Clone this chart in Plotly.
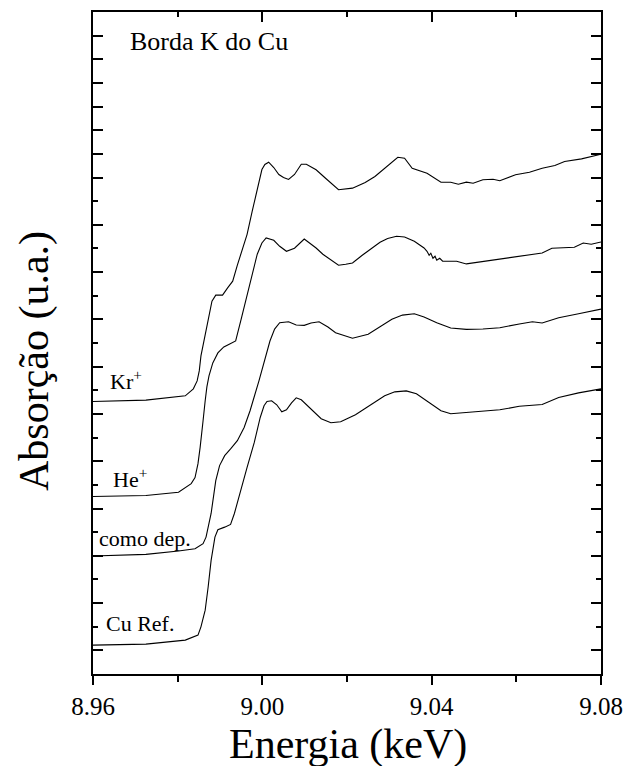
import plotly.graph_objects as go

# ---- data (energy in keV, absorption in arbitrary units) ----
kr_E = [8.9600, 8.9725, 8.9818, 8.9837, 8.9846, 8.9851, 8.9855, 8.9860, 8.9865, 8.9872,
        8.9876, 8.9881, 8.9890, 8.9906, 8.9918, 8.9930, 8.9941, 8.9953, 8.9964, 8.9976,
        8.9988, 8.9999, 9.0006, 9.0015, 9.0027, 9.0039, 9.0050, 9.0062, 9.0076, 9.0092,
        9.0104, 9.0127, 9.0150, 9.0180, 9.0213, 9.0243, 9.0266, 9.0294, 9.0320, 9.0336,
        9.0354, 9.0389, 9.0422, 9.0445, 9.0463, 9.0482, 9.0498, 9.0521, 9.0545, 9.0561,
        9.0598, 9.0631, 9.0661, 9.0691, 9.0714, 9.0754, 9.0800]
kr_A = [11.525, 11.584, 11.765, 12.061, 12.398, 12.820, 13.452, 13.874, 14.296, 15.013,
        15.350, 15.772, 16.025, 16.025, 16.332, 16.615, 17.290, 17.922, 18.597, 19.567,
        20.550, 21.338, 21.549, 21.646, 21.422, 21.127, 21.001, 20.916, 21.127, 21.562,
        21.562, 21.325, 20.958, 20.482, 20.550, 20.790, 21.043, 21.465, 21.857, 21.815,
        21.393, 21.182, 20.802, 20.802, 20.718, 20.802, 20.760, 20.904, 20.929, 20.861,
        21.114, 21.224, 21.393, 21.507, 21.675, 21.789, 21.983]

he_E = [8.9600, 8.9725, 8.9802, 8.9832, 8.9841, 8.9848, 8.9853, 8.9855, 8.9860, 8.9865,
        8.9869, 8.9874, 8.9883, 8.9895, 8.9909, 8.9923, 8.9937, 8.9950, 8.9964, 8.9976,
        8.9988, 8.9999, 9.0009, 9.0027, 9.0041, 9.0057, 9.0076, 9.0099, 9.0113, 9.0127,
        9.0143, 9.0157, 9.0169, 9.0180, 9.0197, 9.0213, 9.0236, 9.0259, 9.0278, 9.0296,
        9.0317, 9.0336, 9.0359, 9.0382, 9.0389, 9.0394, 9.0398, 9.0403, 9.0408, 9.0412,
        9.0419, 9.0426, 9.0459, 9.0482, 9.0498, 9.0521, 9.0561, 9.0607, 9.0661, 9.0684,
        9.0737, 9.0758, 9.0777, 9.0800]
he_A = [7.506, 7.548, 7.688, 8.054, 8.307, 8.898, 9.573, 10.007, 10.711, 11.555,
        12.145, 12.609, 13.157, 13.579, 13.832, 13.958, 14.085, 15.013, 16.067, 16.952,
        17.754, 18.230, 18.441, 18.344, 18.091, 17.880, 18.007, 18.399, 18.217, 18.019,
        17.754, 17.585, 17.429, 17.290, 17.332, 17.387, 17.711, 18.019, 18.260, 18.416,
        18.513, 18.483, 18.302, 18.019, 17.880, 17.711, 17.796, 17.585, 17.669, 17.501,
        17.585, 17.458, 17.458, 17.345, 17.387, 17.416, 17.543, 17.669, 17.808, 18.007,
        18.049, 18.230, 18.175, 18.272]

dep_E = [8.9600, 8.9725, 8.9802, 8.9841, 8.9860, 8.9867, 8.9879, 8.9890, 8.9899, 8.9911,
         8.9925, 8.9941, 8.9957, 8.9971, 8.9992, 9.0006, 9.0018, 9.0029, 9.0041, 9.0062,
         9.0080, 9.0099, 9.0115, 9.0134, 9.0155, 9.0173, 9.0213, 9.0250, 9.0278, 9.0306,
         9.0331, 9.0359, 9.0382, 9.0412, 9.0445, 9.0482, 9.0521, 9.0561, 9.0607, 9.0638,
         9.0661, 9.0700, 9.0747, 9.0800]
dep_A = [4.989, 5.060, 5.200, 5.301, 5.512, 5.790, 6.789, 8.181, 8.814, 9.235,
         9.518, 9.868, 10.429, 11.133, 12.398, 13.326, 14.085, 14.591, 14.856, 14.899,
         14.760, 14.747, 14.844, 14.899, 14.675, 14.435, 14.199, 14.367, 14.675, 15.000,
         15.181, 15.236, 15.097, 14.856, 14.633, 14.578, 14.591, 14.646, 14.802, 14.899,
         14.844, 15.067, 15.236, 15.434]

ref_E = [8.9600, 8.9725, 8.9818, 8.9848, 8.9855, 8.9865, 8.9872, 8.9879, 8.9888, 8.9895,
         8.9911, 8.9925, 8.9934, 8.9948, 8.9964, 8.9981, 8.9995, 9.0004, 9.0011, 9.0022,
         9.0034, 9.0046, 9.0057, 9.0069, 9.0080, 9.0092, 9.0115, 9.0139, 9.0162, 9.0185,
         9.0220, 9.0255, 9.0289, 9.0313, 9.0340, 9.0364, 9.0394, 9.0422, 9.0445, 9.0498,
         9.0561, 9.0607, 9.0661, 9.0700, 9.0747, 9.0800]
ref_A = [1.223, 1.265, 1.434, 1.645, 1.995, 2.699, 3.681, 4.807, 5.790, 6.102,
         6.212, 6.326, 6.789, 7.759, 8.742, 9.796, 10.850, 11.344, 11.525, 11.555,
         11.386, 11.091, 11.175, 11.470, 11.681, 11.597, 11.217, 10.796, 10.627, 10.669,
         10.964, 11.386, 11.765, 11.934, 11.976, 11.850, 11.470, 11.133, 11.006, 11.091,
         11.175, 11.323, 11.398, 11.694, 11.892, 12.061]

series = [(kr_E, kr_A), (he_E, he_A), (dep_E, dep_A), (ref_E, ref_A)]

# curve labels: text, left energy, vertical centre
label_text = ["Kr<sup>+</sup>", "He<sup>+</sup>", "como dep.", "Cu Ref."]
label_E = [8.9635, 8.9642, 8.9609, 8.9625]
label_A = [12.45, 8.30, 5.75, 2.15]

x_tickvals = [8.96, 9.00, 9.04, 9.08]
x_ticktext = ["8.96", "9.00", "9.04", "9.08"]
x_minor = [8.98, 9.02, 9.06]
y_major = [1, 3, 5, 7, 9, 11, 13, 15, 17, 19, 21, 22, 23, 24, 25, 26, 27]
y_minor = [2, 4, 6, 8, 10, 12, 14, 16, 18, 20]

FONT = "Liberation Serif, Times New Roman, serif"

fig = go.Figure()
for E, A in series:
    fig.add_trace(go.Scatter(x=E, y=A, mode="lines",
                             line=dict(color="black", width=1.1),
                             showlegend=False, hoverinfo="skip"))
# empty trace so that the top (mirror) axis is instantiated
fig.add_trace(go.Scatter(x=[], y=[], xaxis="x2", yaxis="y", mode="lines",
                         showlegend=False, hoverinfo="skip"))

for t, e, a in zip(label_text, label_E, label_A):
    fig.add_annotation(x=e, y=a, xref="x", yref="y", text=t, showarrow=False,
                       xanchor="left", yanchor="middle",
                       font=dict(family=FONT, size=22, color="black"))

fig.add_annotation(x=0.068, y=0.9548, xref="paper", yref="paper", text="Borda K do Cu",
                   showarrow=False, xanchor="left", yanchor="middle",
                   font=dict(family=FONT, size=26, color="black"))
fig.add_annotation(x=0.501, y=-0.107, xref="paper", yref="paper", text="Energia (keV)",
                   showarrow=False, xanchor="center", yanchor="middle",
                   font=dict(family=FONT, size=42, color="black"))
fig.add_annotation(x=-0.114, y=0.473, xref="paper", yref="paper", text="Absorção (u.a.)",
                   showarrow=False, xanchor="center", yanchor="middle", textangle=-90,
                   font=dict(family=FONT, size=42, color="black"))

fig.update_layout(
    width=633, height=766,
    margin=dict(l=93, r=23, t=10, b=92),
    paper_bgcolor="white", plot_bgcolor="white",
    font=dict(family=FONT, color="black"),
    xaxis=dict(range=[8.96, 9.08], showline=True, linewidth=2, linecolor="black",
               mirror=True, ticks="outside", ticklen=9, tickwidth=2, tickcolor="black",
               tickmode="array", tickvals=x_tickvals, ticktext=x_ticktext,
               tickfont=dict(family=FONT, size=25, color="black"), ticklabelstandoff=0,
               minor=dict(tickmode="array", tickvals=x_minor, ticks="outside",
                          ticklen=6, tickwidth=2, tickcolor="black"),
               showgrid=False, zeroline=False),
    xaxis2=dict(range=[8.96, 9.08], overlaying="x", side="top", anchor="y",
                showline=False, ticks="inside", ticklen=10, tickwidth=2, tickcolor="black",
                tickmode="array", tickvals=x_tickvals, showticklabels=False,
                minor=dict(tickmode="array", tickvals=x_minor, ticks="inside",
                           ticklen=5, tickwidth=2, tickcolor="black"),
                showgrid=False, zeroline=False),
    yaxis=dict(range=[0, 28], showline=True, linewidth=2, linecolor="black",
               mirror="ticks", ticks="inside", ticklen=10, tickwidth=2, tickcolor="black",
               tickmode="array", tickvals=y_major, showticklabels=False,
               minor=dict(tickmode="array", tickvals=y_minor, ticks="inside",
                          ticklen=5, tickwidth=2, tickcolor="black"),
               showgrid=False, zeroline=False),
)

fig.write_html("out.html")
